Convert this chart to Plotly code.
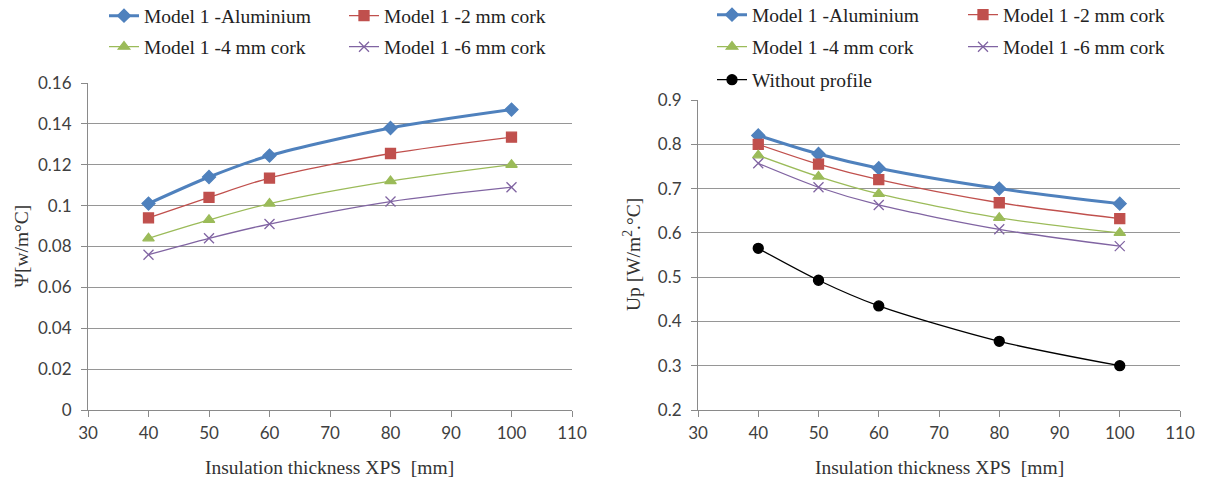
import plotly.graph_objects as go

thickness = [40, 50, 60, 80, 100]

psi_aluminium = [0.101, 0.114, 0.1245, 0.138, 0.147]
psi_cork2 = [0.094, 0.104, 0.1135, 0.1255, 0.1335]
psi_cork4 = [0.084, 0.093, 0.101, 0.112, 0.120]
psi_cork6 = [0.076, 0.084, 0.091, 0.102, 0.109]

up_aluminium = [0.820, 0.778, 0.746, 0.700, 0.666]
up_cork2 = [0.800, 0.755, 0.720, 0.668, 0.632]
up_cork4 = [0.775, 0.727, 0.688, 0.634, 0.600]
up_cork6 = [0.757, 0.703, 0.663, 0.608, 0.570]
up_without = [0.565, 0.493, 0.435, 0.355, 0.300]

names = ["Model 1 -Aluminium", "Model 1 -2 mm cork", "Model 1 -4 mm cork",
         "Model 1 -6 mm cork", "Without profile"]

SERIF = "Liberation Serif, Times New Roman, serif"
SANS = "Lato, Carlito, sans-serif"
styles = [
    dict(color="#4F81BD", width=3, symbol="diamond", size=10),
    dict(color="#C0504D", width=1.3, symbol="square", size=10),
    dict(color="#9BBB59", width=1.3, symbol="triangle-up", size=10),
    dict(color="#8064A2", width=1.3, symbol="x-thin-open", size=10),
    dict(color="#000000", width=1.3, symbol="circle", size=10),
]

fig = go.Figure()

left_series = [psi_aluminium, psi_cork2, psi_cork4, psi_cork6]
left_legends = ["legend", "legend", "legend2", "legend2"]
for i, ys in enumerate(left_series):
    s = styles[i]
    fig.add_trace(go.Scatter(
        x=thickness, y=ys, name=names[i], mode="lines+markers",
        line=dict(color=s["color"], width=s["width"], shape="spline", smoothing=0.8),
        marker=dict(symbol=s["symbol"], size=s["size"], color=s["color"],
                    line=dict(color=s["color"], width=1.3)),
        xaxis="x", yaxis="y", legend=left_legends[i]))

right_series = [up_aluminium, up_cork2, up_cork4, up_cork6, up_without]
right_legends = ["legend3", "legend3", "legend4", "legend4", "legend5"]
for i, ys in enumerate(right_series):
    s = styles[i]
    fig.add_trace(go.Scatter(
        x=thickness, y=ys, name=names[i], mode="lines+markers",
        line=dict(color=s["color"], width=s["width"], shape="spline", smoothing=0.8),
        marker=dict(symbol=s["symbol"], size=s["size"], color=s["color"],
                    line=dict(color=s["color"], width=1.3)),
        xaxis="x2", yaxis="y2", legend=right_legends[i]))

W, H = 1205, 484
grid = "#969696"
axcommon = dict(showline=True, linecolor="#8a8a8a", linewidth=1, ticks="outside",
                ticklen=6, tickcolor="#8a8a8a", zeroline=False, automargin=False,
                tickfont=dict(family=SANS, size=17, color="#404040"))

lx0, lx1 = 88 / W, 572 / W
rx0, rx1 = 698 / W, 1180 / W
ly0, ly1 = 1 - 410 / H, 1 - 83 / H
ry0, ry1 = 1 - 410 / H, 1 - 100 / H

FS = 19.5
legend_common = dict(orientation="h", font=dict(family=SERIF, size=FS, color="#222222"),
                     bgcolor="rgba(0,0,0,0)", xanchor="left", yanchor="middle",
                     entrywidthmode="pixels", itemwidth=30, tracegroupgap=0)

title_font = dict(family=SERIF, size=FS, color="#333333")

fig.update_layout(
    width=W, height=H, margin=dict(l=0, r=0, t=0, b=0, autoexpand=False),
    plot_bgcolor="white", paper_bgcolor="white",
    font=dict(family=SERIF),
    xaxis=dict(domain=[lx0, lx1], range=[30, 110], dtick=10, showgrid=False,
               anchor="y", ticklabelstandoff=2, **axcommon),
    yaxis=dict(domain=[ly0, ly1], range=[0, 0.16], dtick=0.02, showgrid=True,
               gridcolor=grid, gridwidth=1, anchor="x", ticklabelstandoff=6, **axcommon),
    xaxis2=dict(domain=[rx0, rx1], range=[30, 110], dtick=10, showgrid=False,
                anchor="y2", ticklabelstandoff=2, **axcommon),
    yaxis2=dict(domain=[ry0, ry1], range=[0.2, 0.9], dtick=0.1, showgrid=True,
                gridcolor=grid, gridwidth=1, anchor="x2", ticklabelstandoff=6, **axcommon),
    legend=dict(legend_common, x=104 / W, y=1 - 16 / H, entrywidth=195),
    legend2=dict(legend_common, x=104 / W, y=1 - 47 / H, entrywidth=195),
    legend3=dict(legend_common, x=712 / W, y=1 - 15 / H, entrywidth=206),
    legend4=dict(legend_common, x=712 / W, y=1 - 47 / H, entrywidth=206),
    legend5=dict(legend_common, x=712 / W, y=1 - 80 / H, entrywidth=206),
    annotations=[
        dict(text="Insulation thickness XPS  [mm]", x=(lx0 + lx1) / 2, y=1 - 467 / H,
             xref="paper", yref="paper", showarrow=False, font=title_font,
             xanchor="center", yanchor="middle"),
        dict(text="Insulation thickness XPS  [mm]", x=(rx0 + rx1) / 2, y=1 - 467 / H,
             xref="paper", yref="paper", showarrow=False, font=title_font,
             xanchor="center", yanchor="middle"),
        dict(text="Ψ[w/m°C]", x=21 / W, y=(ly0 + ly1) / 2, textangle=-90,
             xref="paper", yref="paper", showarrow=False, font=title_font,
             xanchor="center", yanchor="middle"),
        dict(text="Up [W/m<sup>2</sup>.°C]", x=632 / W, y=(ry0 + ry1) / 2, textangle=-90,
             xref="paper", yref="paper", showarrow=False, font=title_font,
             xanchor="center", yanchor="middle"),
    ],
)

fig.write_html("out.html")
